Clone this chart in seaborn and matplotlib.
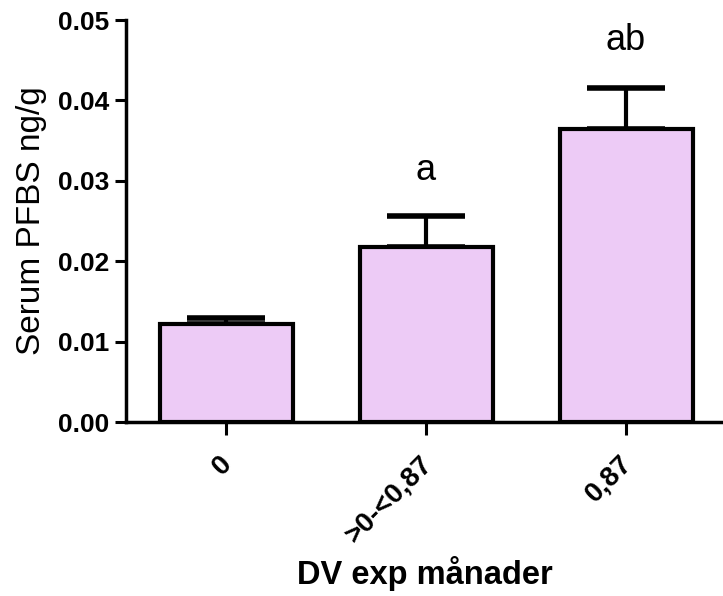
import matplotlib
matplotlib.use("Agg")
import matplotlib.pyplot as plt
import matplotlib.transforms as mtransforms
import seaborn as sns
import numpy as np
import pandas as pd

categories = ["0", ">0-<0,87", "0,87"]
means = [0.0122, 0.0218, 0.0364]
sem = [0.0007, 0.0038, 0.0051]
letters = ["", "a", "ab"]
letter_y = [0.0, 0.0301, 0.0463]
yticks = [0.00, 0.01, 0.02, 0.03, 0.04, 0.05]

sns.set_style("ticks", {"axes.edgecolor": "black", "xtick.color": "black",
                        "ytick.color": "black", "text.color": "black",
                        "axes.labelcolor": "black"})
plt.rcParams["font.family"] = ["Liberation Sans", "DejaVu Sans"]

fig = plt.figure(figsize=(7.23, 5.96), dpi=100)
ax = fig.add_axes([126/723, 1-422/596, 1-126/723, (422-20)/596])

df = pd.DataFrame({"cat": categories, "val": means})
sns.barplot(data=df, x="cat", y="val", color="#EDCBF6", width=0.665,
            edgecolor="black", linewidth=3, errorbar=None, ax=ax, zorder=3,
            saturation=1)
xs = np.arange(len(categories))
ax.errorbar(xs, means, yerr=[np.zeros(len(sem)), sem], fmt="none",
            ecolor="black", elinewidth=3, capsize=28, capthick=4, zorder=2)
for x, t, y in zip(xs, letters, letter_y):
    if t:
        ax.text(x, y, t, ha="center", va="baseline", fontsize=26, color="black")

ax.set_ylim(0, 0.05)
ax.set_xlim(-0.5, 2.485)
ax.set_yticks(yticks)
ax.set_yticklabels([f"{v:.2f}" for v in yticks], fontsize=19, fontweight="bold")
ax.set_xticks(xs)
ax.set_xticklabels(categories, fontsize=20, fontweight="bold", rotation=45,
                   ha="right", rotation_mode="anchor")
ax.tick_params(axis="y", length=8, width=2.2, pad=4, colors="black")
ax.tick_params(axis="x", length=9, width=2.2, pad=8, colors="black")
offset = mtransforms.ScaledTranslation(-0.07, -0.05, fig.dpi_scale_trans)
for lab in ax.get_xticklabels():
    lab.set_transform(lab.get_transform() + offset)
for s in ["top", "right"]:
    ax.spines[s].set_visible(False)
for s in ["left", "bottom"]:
    ax.spines[s].set_linewidth(2.5)
    ax.spines[s].set_color("black")
ax.set_ylabel("Serum PFBS ng/g", fontsize=24, labelpad=8)
ax.set_xlabel("DV exp månader", fontsize=23.5, fontweight="bold", labelpad=6)

fig.savefig("out.png", dpi=100)
